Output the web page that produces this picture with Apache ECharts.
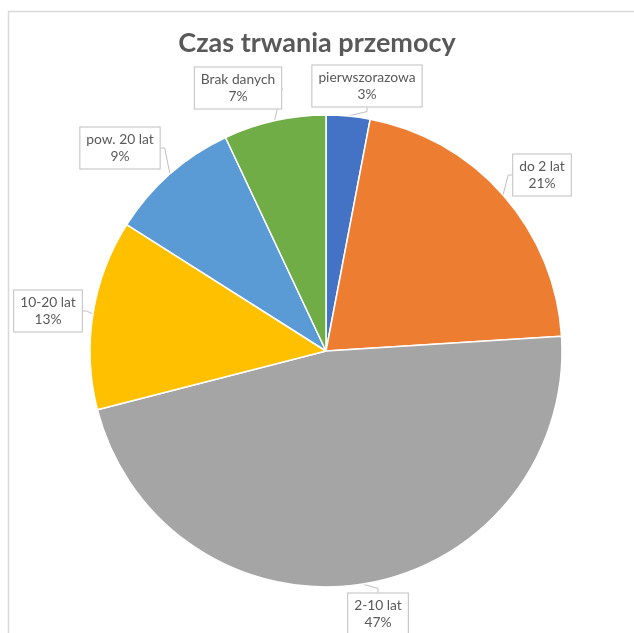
<!DOCTYPE html>
<html>
<head>
<meta charset="utf-8">
<script src="https://cdn.jsdelivr.net/npm/echarts@6/dist/echarts.min.js"></script>
<style>html,body{margin:0;padding:0;background:#fff;}#c{width:634px;height:633px;}</style>
</head>
<body>
<div id="c"></div>
<script>
const categories = ['pierwszorazowa', 'do 2 lat', '2-10 lat', '10-20 lat', 'pow. 20 lat', 'Brak danych'];
const values = [3, 21, 47, 13, 9, 7];
const colors = ['#4472C4', '#ED7D31', '#A5A5A5', '#FFC000', '#5B9BD5', '#70AD47'];
// label box centres (layout only)
const labelPos = [[367, 86], [542, 175], [378, 614], [48, 311], [120, 148], [238, 88]];

const chart = echarts.init(document.getElementById('c'));
chart.setOption({
  animation: false,
  graphic: [{
    type: 'rect', shape: {x: 8.5, y: 11.5, width: 700, height: 700},
    style: {fill: 'none', stroke: '#d9d9d9', lineWidth: 1.5}, z: 0
  }],
  title: {
    text: 'Czas trwania przemocy', left: 'center', top: 25,
    textStyle: {fontFamily: 'Lato', fontWeight: 'bold', fontSize: 27, color: '#595959'}
  },
  series: [{
    type: 'pie',
    center: [326, 351],
    radius: [0, 236],
    startAngle: 90,
    clockwise: true,
    data: categories.map((n, i) => ({name: n, value: values[i], itemStyle: {color: colors[i]}})),
    itemStyle: {borderColor: '#fff', borderWidth: 1.5},
    label: {
      show: true,
      position: 'outside',
      alignTo: 'none',
      edgeDistance: 0,
      formatter: '{b}\n{d}%',
      fontFamily: 'Lato', fontSize: 13.8, color: '#595959', lineHeight: 17,
      backgroundColor: '#fff', borderColor: '#bfbfbf', borderWidth: 1,
      padding: [4, 6, 3, 6], align: 'center', overflow: 'none'
    },
    labelLine: {show: true, lineStyle: {color: '#bfbfbf', width: 1}, length: 4, length2: 4},
    labelLayout: function (p) {
      const pos = labelPos[p.dataIndex];
      return {x: pos[0], y: pos[1], align: 'center', verticalAlign: 'middle'};
    },
    emphasis: {disabled: true}
  }]
});
</script>
</body>
</html>
